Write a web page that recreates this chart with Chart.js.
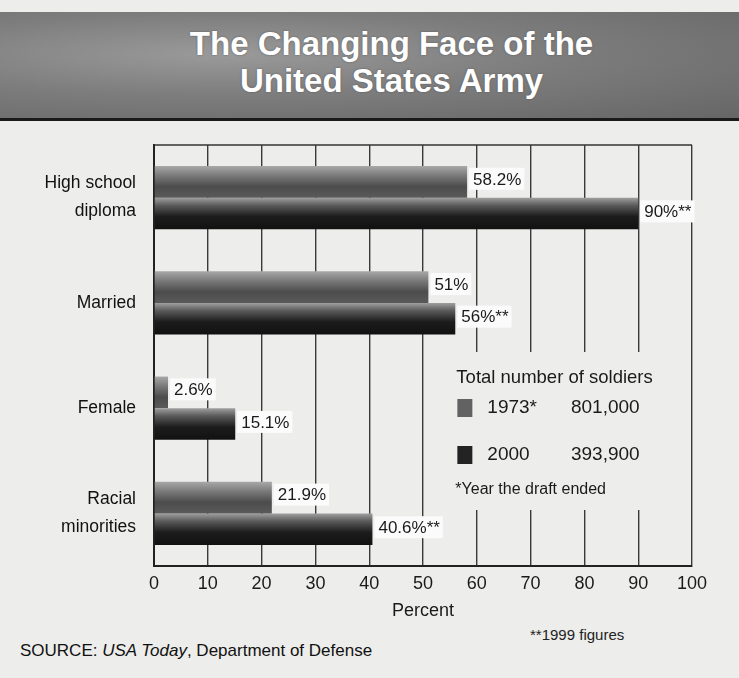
<!DOCTYPE html>
<html>
<head>
<meta charset="utf-8">
<script src="https://cdn.jsdelivr.net/npm/chart.js@4/dist/chart.umd.min.js"></script>
<style>
  html, body { margin:0; padding:0; background:#ededeb; }
  body { width:739px; height:678px; position:relative; overflow:hidden;
         font-family:'Liberation Sans',Arial,sans-serif; }
  #banner { position:absolute; left:0; top:12px; width:739px; height:106px;
            background: radial-gradient(ellipse at 30% 40%, #9a9a9a 0%, #7d7d7d 45%, #666 100%); }
  #banner div { position:absolute; width:739px; left:22px; text-align:center; color:#fff;
                font-weight:bold; font-size:33px; text-shadow:0 0 2px #555; }
  #rule { position:absolute; left:0; top:118px; width:739px; height:3px; background:#1a1a1a; }
  #source { position:absolute; left:20px; top:641px; font-size:17px; color:#111; }
  #note { position:absolute; left:530px; top:626px; font-size:15px; color:#222; }
  canvas { position:absolute; left:0; top:0; }
</style>
</head>
<body>
<div id="banner">
  <div style="top:13px">The Changing Face of the</div>
  <div style="top:50px">United States Army</div>
</div>
<div id="rule"></div>
<div id="source">SOURCE: <i>USA Today</i>, Department of Defense</div>
<div id="note">**1999 figures</div>
<canvas id="c" width="739" height="678"></canvas>
<script>
const categories = [['High school', 'diploma'], 'Married', 'Female', ['Racial', 'minorities']];
const values1973 = [58.2, 51, 2.6, 21.9];
const values2000 = [90, 56, 15.1, 40.6];
const labels1973 = ['58.2%', '51%', '2.6%', '21.9%'];
const labels2000 = ['90%**', '56%**', '15.1%', '40.6%**'];
const seriesNames = ['1973*', '2000'];
const seriesTotals = ['801,000', '393,900'];
const legendTitle = 'Total number of soldiers';
const legendNote = '*Year the draft ended';
const axisTitle = 'Percent';

const FONT = "'Liberation Sans',Arial,sans-serif";
const colors = ['#626262', '#232323'];
const stops = [
  [[0, '#a8a8a8'], [0.3, '#7a7a7a'], [0.65, '#4c4c4c'], [1, '#5a5a5a']],
  [[0, '#a0a0a0'], [0.25, '#5a5a5a'], [0.6, '#1c1c1c'], [1, '#111111']]
];
const CAT_PCT = 0.6;
const bg = '#ededeb';

function barFill(d) {
  return function (c) {
    const chart = c.chart, ys = chart.scales.y, ca = chart.chartArea;
    if (!ys || !ca || c.dataIndex === undefined) return colors[d];
    const center = ys.getPixelForValue(c.dataIndex);
    const group = (ca.bottom - ca.top) / categories.length * CAT_PCT;
    const top = d === 0 ? center - group / 2 : center;
    const g = chart.ctx.createLinearGradient(0, top, 0, top + group / 2);
    stops[d].forEach(s => g.addColorStop(s[0], s[1]));
    return g;
  };
}

const overlay = {
  id: 'overlay',
  afterDatasetsDraw(chart) {
    const ctx = chart.ctx;
    const ca = chart.chartArea;
    const xs = chart.scales.x;
    ctx.save();
    ctx.strokeStyle = '#333'; ctx.lineWidth = 1.5;
    ctx.beginPath(); ctx.moveTo(ca.left, ca.top); ctx.lineTo(ca.right, ca.top); ctx.stroke();
    const lx0 = xs.getPixelForValue(51.5), lx1 = xs.getPixelForValue(99.4);
    const ly0 = ca.top + 207, ly1 = ca.top + 365;
    ctx.fillStyle = bg;
    ctx.fillRect(lx0, ly0, lx1 - lx0, ly1 - ly0);
    ctx.fillStyle = '#1a1a1a';
    ctx.textBaseline = 'middle';
    ctx.font = '18.5px ' + FONT;
    const tx = xs.getPixelForValue(56.2);
    ctx.fillText(legendTitle, tx, ly0 + 26);
    const rows = [ly0 + 56, ly0 + 103];
    for (let i = 0; i < 2; i++) {
      ctx.fillStyle = colors[i];
      ctx.fillRect(tx + 1, rows[i] - 9, 15, 18);
      ctx.fillStyle = '#1a1a1a';
      ctx.font = '19px ' + FONT;
      ctx.fillText(seriesNames[i], tx + 31, rows[i]);
      ctx.fillText(seriesTotals[i], xs.getPixelForValue(77.5), rows[i]);
    }
    ctx.font = '16px ' + FONT;
    ctx.fillText(legendNote, tx - 1, ly0 + 138);
    const lbls = [labels1973, labels2000];
    ctx.font = '17px ' + FONT;
    for (let d = 0; d < 2; d++) {
      chart.getDatasetMeta(d).data.forEach((bar, i) => {
        const t = lbls[d][i];
        const w = ctx.measureText(t).width;
        const x = bar.x + 2;
        const y = bar.y - (d === 0 ? 3 : 2);
        ctx.fillStyle = '#fbfbfb';
        ctx.fillRect(x, y - 11, w + 7, 22);
        ctx.fillStyle = '#1a1a1a';
        ctx.fillText(t, x + 4, y + 1);
      });
    }
    ctx.restore();
  }
};

new Chart(document.getElementById('c'), {
  type: 'bar',
  data: {
    labels: categories,
    datasets: [
      { label: seriesNames[0], data: values1973, backgroundColor: barFill(0) },
      { label: seriesNames[1], data: values2000, backgroundColor: barFill(1) }
    ]
  },
  options: {
    indexAxis: 'y',
    responsive: false,
    animation: false,
    layout: { padding: { top: 145, right: 47, bottom: 52, left: 0 } },
    datasets: { bar: { categoryPercentage: CAT_PCT, barPercentage: 1.0 } },
    plugins: { legend: { display: false }, tooltip: { enabled: false } },
    scales: {
      x: {
        min: 0, max: 100,
        ticks: { stepSize: 10, color: '#1a1a1a', font: { family: FONT, size: 18 }, padding: 7 },
        grid: { color: '#3a3a3a', lineWidth: 1.4, drawTicks: false },
        border: { color: '#222', width: 2 },
        title: { display: true, text: axisTitle, color: '#1a1a1a', font: { family: FONT, size: 18 }, padding: { top: 4 } },
        afterFit(s) { s.height = 60; }
      },
      y: {
        ticks: { color: '#111', font: { family: FONT, size: 17.5, lineHeight: 1.6 }, padding: 10 },
        grid: { display: false },
        border: { color: '#222', width: 2 },
        afterFit(s) { s.width = 154; }
      }
    }
  },
  plugins: [overlay]
});
</script>
</body>
</html>
